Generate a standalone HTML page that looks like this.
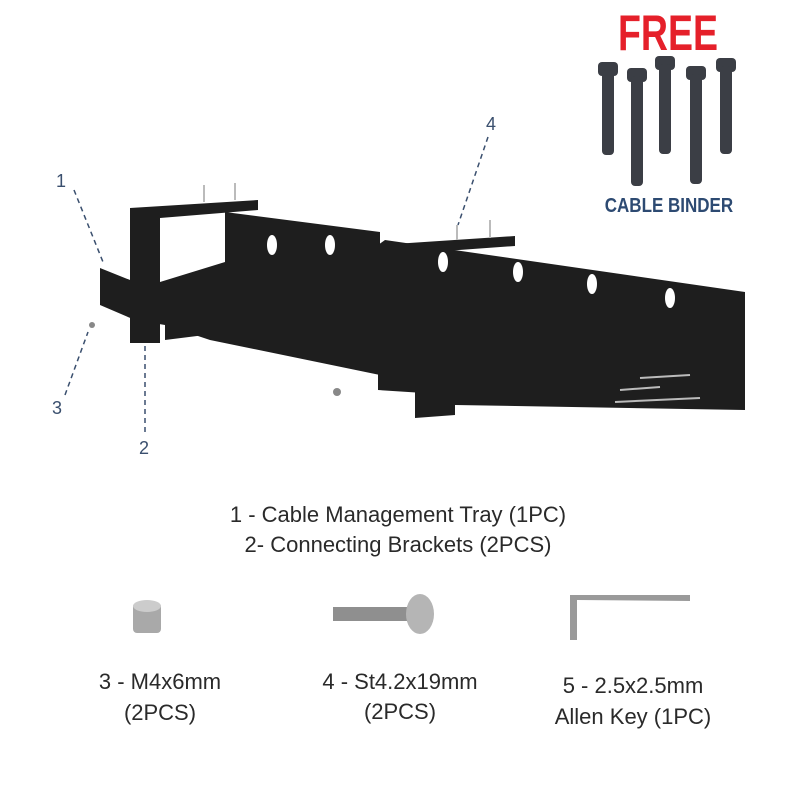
<!DOCTYPE html>
<html><head><meta charset="utf-8"><style>
body{margin:0;background:#fff;width:800px;height:800px;overflow:hidden;position:relative;font-family:"Liberation Sans",sans-serif}
.t{position:absolute;color:#2a2a2a;font-size:22px;text-align:center;white-space:nowrap}
</style></head><body>
<svg width="800" height="800" style="position:absolute;left:0;top:0">
<text x="668" y="50" font-family="Liberation Sans" font-weight="bold" font-size="50" fill="#e5202a" text-anchor="middle" transform="translate(167,0) scale(0.75,1)" style="transform-origin:0 0">FREE</text>
<g fill="#3b3e45">
<rect x="598" y="62" width="20" height="14" rx="4"/><rect x="602" y="70" width="12" height="85" rx="4"/>
<rect x="627" y="68" width="20" height="14" rx="4"/><rect x="631" y="76" width="12" height="110" rx="4"/>
<rect x="655" y="56" width="20" height="14" rx="4"/><rect x="659" y="64" width="12" height="90" rx="4"/>
<rect x="686" y="66" width="20" height="14" rx="4"/><rect x="690" y="74" width="12" height="110" rx="4"/>
<rect x="716" y="58" width="20" height="14" rx="4"/><rect x="720" y="66" width="12" height="88" rx="4"/>
</g>
<text x="669" y="212" font-family="Liberation Sans" font-weight="bold" font-size="20" fill="#2d4a72" text-anchor="middle" transform="scale(0.85,1) translate(118,0)">CABLE BINDER</text>
<g font-family="Liberation Sans" font-size="18" fill="#3a4f6e">
<text x="56" y="187">1</text><text x="486" y="130">4</text><text x="52" y="414">3</text><text x="139" y="454">2</text>
</g>
<g stroke="#3a4f6e" stroke-width="1.5" stroke-dasharray="5,4" fill="none">
<path d="M74 190 L103 262"/><path d="M488 137 L458 225"/><path d="M65 395 L88 332"/><path d="M145 432 L145 345"/>
</g>
<g fill="#1e1e1e">
<polygon points="225,212 380,232 380,375 210,340 165,325 135,320 100,305 100,268 135,282 225,255"/>
<rect x="130" y="208" width="30" height="135"/>
<polygon points="130,208 258,200 258,210 160,218"/>
<polygon points="165,320 205,320 205,335 165,340"/>
</g>
<g fill="#fff"><rect x="160" y="220" width="65" height="65"/></g>
<g fill="#1e1e1e"><polygon points="160,282 225,262 225,300 160,300"/></g>
<g fill="#1e1e1e">
<polygon points="385,240 745,292 745,410 455,405 455,395 378,390 378,245"/>
<polygon points="380,245 515,236 515,246 390,255"/>
<polygon points="415,390 455,390 455,415 415,418"/>
</g>
<g fill="#fff">
<ellipse cx="443" cy="262" rx="5" ry="10"/><ellipse cx="518" cy="272" rx="5" ry="10"/><ellipse cx="592" cy="284" rx="5" ry="10"/><ellipse cx="670" cy="298" rx="5" ry="10"/>
<ellipse cx="272" cy="245" rx="5" ry="10"/><ellipse cx="330" cy="245" rx="5" ry="10"/>
</g>
<g stroke="#bbb" stroke-width="2">
<line x1="204" y1="185" x2="204" y2="202"/><line x1="235" y1="183" x2="235" y2="200"/>
<line x1="457" y1="225" x2="457" y2="240"/><line x1="490" y1="220" x2="490" y2="238"/>
<line x1="620" y1="390" x2="660" y2="387"/><line x1="640" y1="378" x2="690" y2="375"/><line x1="615" y1="402" x2="700" y2="398"/>
</g>
<circle cx="337" cy="392" r="4" fill="#888"/><circle cx="92" cy="325" r="3" fill="#888"/>
<g>
<rect x="133" y="603" width="28" height="30" rx="4" fill="#a9a9a9"/><ellipse cx="147" cy="606" rx="14" ry="6" fill="#ccc"/>
<rect x="333" y="607" width="80" height="14" fill="#8f8f8f"/><ellipse cx="420" cy="614" rx="14" ry="20" fill="#b5b5b5"/>
<path d="M577 600 L577 640 L570 640 L570 595 L690 595 L690 601 Z" fill="#9a9a9a"/>
</g>
</svg>
<div class="t" style="left:0;width:796px;top:502px">1 - Cable Management Tray (1PC)</div>
<div class="t" style="left:0;width:796px;top:532px">2- Connecting Brackets (2PCS)</div>
<div class="t" style="left:60px;width:200px;top:669px">3 - M4x6mm</div>
<div class="t" style="left:60px;width:200px;top:700px">(2PCS)</div>
<div class="t" style="left:300px;width:200px;top:669px">4 - St4.2x19mm</div>
<div class="t" style="left:300px;width:200px;top:699px">(2PCS)</div>
<div class="t" style="left:533px;width:200px;top:673px">5 - 2.5x2.5mm</div>
<div class="t" style="left:533px;width:200px;top:704px">Allen Key (1PC)</div>
</body></html>
